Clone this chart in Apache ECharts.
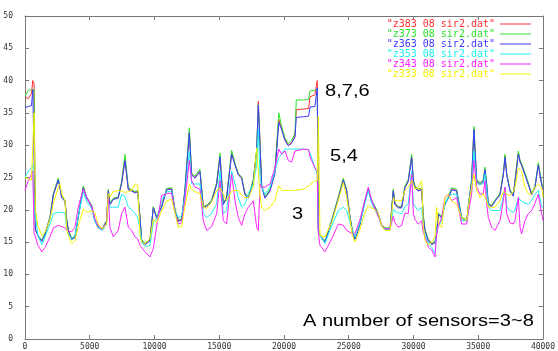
<!DOCTYPE html>
<html>
<head>
<meta charset="utf-8">
<script src="https://cdn.jsdelivr.net/npm/echarts@6/dist/echarts.min.js"></script>
<style>
  html, body { margin: 0; background: #fff; }
  #main { width: 558px; height: 351px; }
</style>
</head>
<body>
<div id="main"></div>
<script>
// sample positions (x) shared by every curve
const xs = [0,250,500,600,700,800,1000,1300,1550,1930,
  2190,2570,2700,2830,3090,3220,3350,3600,3860,4120,
  4500,4760,5150,5400,5660,5970,6300,6435,6560,6820,
  7200,7460,7720,7980,8240,8500,8700,8880,9010,9270,
  9650,9910,10170,10550,10940,11320,11580,11840,12100,12350,
  12690,12870,13130,13510,13770,14030,14410,14800,15060,15310,
  15570,15960,16220,16470,16730,16990,17250,17630,17890,18020,
  18150,18280,18530,18920,19300,19600,19820,20080,20340,20590,
  20850,20950,21500,21900,22010,22390,22570,22650,22780,23170,
  23680,24200,24580,24840,25100,25280,25480,25870,26250,26510,
  26770,27030,27280,27540,27800,28190,28440,28570,28830,29090,
  29340,29600,29860,29990,30120,30370,30630,30760,30890,31150,
  31400,31660,31790,31920,32180,32430,32690,32950,33330,33460,
  33720,34110,34230,34490,34670,34880,35140,35390,35520,35650,
  35780,36040,36290,36680,36940,37070,37200,37450,37710,37840,
  38100,38230,38350,38610,38870,39130,39380,39640,39900,40000];

const z383 = [37.5,37.2,38.0,40.0,39.5,17,16,15.2,16.3,18.8,
  22.4,24.7,23.5,22.0,21.4,18.5,16.8,15.5,15.8,19.0,
  23.5,21.9,20.6,18.3,17.3,17.0,18.3,23.0,20.9,21.7,
  21.9,24.2,27.8,23.2,23.0,22.7,22.9,18.8,15.3,14.7,
  15.3,20.4,18.8,20.5,23.2,23.3,20.0,18.3,18.5,23.0,
  32.0,25.5,25.0,26.0,20.4,20.6,21.4,24.0,28.3,20.9,
  21.9,28.8,27.0,25.5,25.0,22.4,21.9,24.5,29.1,36.8,
  30.0,23.7,21.9,23.0,25.8,34.0,32.5,30.8,30.0,30.4,
  31.4,35.5,35.6,35.7,37.5,37.8,40.0,17,16,15.1,
  18.3,21.9,24.7,23.0,18.8,16.8,15.5,17.8,21.4,23.2,
  21.4,20.4,19.4,17.6,17.1,17.1,23.0,20.9,20.4,20.4,
  23.5,24.5,28.3,24.5,23.5,23.0,23.2,19.0,16.8,15.3,
  14.7,15.0,16.3,19.4,18.8,20.9,21.9,23.2,23.0,22.7,
  18.8,18.3,20.4,24.5,32.5,24.5,24.0,24.5,26.3,24.0,
  20.9,20.6,21.4,22.4,25.5,28.3,25.5,23.0,22.2,22.2,
  28.8,27.5,27.0,25.5,24.0,22.4,23.5,27.0,24.0,23.2];

const z373 = [37.6,38.5,38.6,38.7,38.6,17,16,15.3,16.4,18.9,
  22.5,24.9,23.6,22.1,21.5,18.6,16.9,15.6,15.9,19.1,
  23.7,22.0,20.7,18.4,17.4,17.1,18.4,23.2,21.0,21.8,
  22.0,24.4,28.6,23.4,23.1,22.8,23.0,18.9,15.4,14.8,
  15.4,20.5,18.9,20.6,23.3,23.4,20.1,18.4,18.6,23.1,
  32.7,25.7,25.2,26.3,20.5,20.7,21.5,24.2,28.8,21.0,
  22.0,29.2,27.2,25.6,25.1,22.5,22.0,24.7,29.3,36.3,
  30.2,23.9,22.0,23.2,26.0,35.0,32.9,31.1,30.3,30.7,
  31.8,37.0,37.0,37.1,38.4,38.5,38.6,17,16,15.2,
  18.4,22.0,24.9,23.1,18.9,16.9,15.6,17.9,21.5,23.4,
  21.5,20.5,19.5,17.7,17.2,17.2,23.2,21.0,20.5,20.5,
  23.7,24.7,28.6,24.7,23.7,23.2,23.4,19.1,16.9,15.4,
  14.8,15.1,16.4,19.5,18.9,21.0,22.0,23.4,23.2,22.9,
  18.9,18.4,20.5,24.7,32.9,24.7,24.2,24.7,26.6,24.2,
  21.0,20.7,21.5,22.5,25.7,28.6,25.7,23.1,22.3,22.3,
  29.1,27.7,27.2,25.7,24.2,22.5,23.7,27.3,24.2,23.4];

const z363 = [35.8,36.0,36.1,38.6,38.8,17,16,15.1,16.2,18.7,
  22.3,24.6,23.4,21.9,21.3,18.4,16.7,15.4,15.7,18.9,
  23.4,21.8,20.5,18.2,17.2,16.9,18.2,22.9,20.8,21.6,
  21.8,24.1,27.6,23.1,22.9,22.6,22.8,18.7,15.2,14.6,
  15.2,20.3,18.7,20.4,23.1,23.2,19.9,18.2,18.4,22.9,
  31.9,25.4,24.9,25.9,20.3,20.5,21.3,23.9,28.2,20.8,
  21.8,28.6,26.9,25.4,24.9,22.3,21.8,24.4,29.0,36.2,
  29.9,23.6,21.8,22.9,25.6,33.5,32.4,30.7,29.9,30.3,
  31.3,34.3,34.4,34.5,35.9,36.0,38.9,17,16,15.0,
  18.2,21.8,24.6,22.9,18.7,16.7,15.4,17.7,21.3,23.1,
  21.3,20.3,19.3,17.5,17.0,17.0,22.9,20.8,20.3,20.3,
  23.4,24.4,28.1,24.4,23.4,22.9,23.1,18.9,16.7,15.2,
  14.6,14.9,16.2,19.3,18.7,20.8,21.8,23.1,22.9,22.6,
  18.7,18.2,20.3,24.4,32.4,24.4,23.9,24.4,26.2,23.9,
  20.8,20.5,21.3,22.3,25.4,28.1,25.4,22.9,22.1,22.1,
  28.6,27.4,26.9,25.4,23.9,22.3,23.4,26.9,23.9,23.1];

const z353 = [25,26,26.5,27,20,19,16,14.6,15.8,17.8,
  19.4,19.6,19.7,19.6,19.5,17,16.2,15.5,16,19,
  22.8,21.3,20.2,18.2,17.3,16.8,17.8,21,20.4,20.4,
  20.4,22.4,22,20.4,20,19.4,18.8,17,15,14.3,
  14.5,18,18.5,21.5,22.8,22.8,19.8,18.8,19,22,
  29.1,24,24,24,19.4,18.8,19.4,20.9,26,19.4,
  19.9,26,24,21.9,20.4,20.9,22.5,24,27,32.5,
  25,23.5,22.4,23.5,26,28.1,28.6,29.4,29.4,29.4,
  29.4,29.4,29.4,29.3,28.8,26.5,25.5,17,16,14.8,
  17.5,19.9,20.4,19.9,18,16.8,15.8,18,21,23,
  21,20,19,17.5,17,17,20,19.8,19.5,19.4,
  20.5,20.9,26,20.9,20.5,19.9,20.4,17,16.8,14.7,
  14.2,13.2,16.8,17.5,18.3,20.9,21.9,22.4,22.4,22.4,
  18.3,18.3,19.5,23.5,29.1,24,24,24,25.5,23,
  20.4,19.9,19.9,19.9,22,23.5,20.5,19.9,19.6,20,
  21.9,21.5,21.4,21,20.9,21.5,22.4,23,20.5,20.4];

const z343 = [23,24.5,25.5,26,16.5,16.5,14.5,13.5,14.2,15.8,
  17.2,17.6,17.5,17.4,17.2,16.8,16.6,16.6,17.3,20.5,
  23.2,22,20.5,18.6,17.5,17,18,22,17.3,15.8,
  16.8,19.4,20.4,17.3,16.8,15.8,15.5,14.5,14.2,13.5,
  12.7,14,17.5,22.2,22.5,22.6,19.5,17.8,18,21.5,
  27.6,24.5,23.5,23.2,18.3,16.8,17.4,19.4,24.5,18.3,
  17.8,25.5,21.4,18.8,17.6,19.4,20.4,21.4,17.3,16.8,
  24,23.5,23.5,24,26.5,29.4,28.6,29.1,27.6,27.4,
  29.1,29.3,29.4,29.3,28.2,26.5,26,16.5,14.5,13.5,
  15.5,17.8,17.6,16.8,16.5,16.3,16.3,18.5,21.5,23.5,
  21.5,20.2,19,17.6,17.1,17,19,18,17.3,17.6,
  19.5,19.4,25.5,19.4,18.5,17.8,18.3,16.5,15.8,14.2,
  13.8,12.7,16.3,17.5,18.8,21.9,22.4,21.4,21.9,22,
  17.8,17.8,19.5,22.4,27.6,23.5,22.4,22.5,24.5,21,
  18.8,17.3,16.8,18.3,21.4,23.5,19.4,18,17.8,18.3,
  21.9,17.3,16.3,18.3,19.4,19.9,21,22.4,19.4,18.3];

const z333 = [25,24.8,24.6,24.5,35,20,17.5,16,16.5,18.5,
  21,23.5,24,22.5,21.4,17,16,14.8,15.2,17.5,
  20.1,19.6,19.8,19.5,17.8,17,17.8,22.5,22,22.8,
  23,22.9,22.7,22.8,23,24,23.8,16,15,14.8,
  15.5,18.5,18,19.8,21.4,21.6,19.5,17.3,17.5,20.5,
  24,23.2,22.8,22.5,20.4,20.2,21.2,23,23.4,22.4,
  21.4,22.9,23,23,22.3,21.9,21.9,23.5,29.6,26,
  22,20.4,19.9,20.4,21.4,23.7,23,23,23,23,
  23,23.1,23.2,23.7,23.8,24.5,24.5,34.5,16,15.8,
  18,21.5,24.2,22,18.5,16,15,17,19.5,20.6,
  20.3,20,19.5,17.5,16.8,16.8,21.9,21.4,21.4,21.4,
  23,23.5,24.5,24,23.2,23.5,24.5,17.5,15.3,14.5,
  15,15.8,20.4,17.8,17.3,21.9,22.4,21.4,20.9,20.9,
  18.8,18.3,20.4,23.5,25.5,23,21.9,22.5,22.8,21.4,
  20.4,20.4,20.4,21.4,22.9,23,22.4,22.2,22.8,23.5,
  26.5,26.2,26,23.5,22.5,22.4,23.5,24,23.5,22];

const names = ['"z383 08 sir2.dat"', '"z373 08 sir2.dat"', '"z363 08 sir2.dat"',
  '"z353 08 sir2.dat"', '"z343 08 sir2.dat"', '"z333 08 sir2.dat"'];
const values = [z383, z373, z363, z353, z343, z333];
const colors = ['#ff3030', '#30e030', '#3a3aff', '#20f0f0', '#ff20ff', '#f4f400'];

const axisColor = '#777';
const tickFont = { fontFamily: 'DejaVu Sans Mono', fontSize: 8, color: '#333' };

function pts(arr) {
  return xs.map(function (x, i) { return [x, arr[i]]; });
}

const chart = echarts.init(document.getElementById('main'), null, { renderer: 'canvas' });

const series = names.map(function (n, i) {
  return {
    name: n,
    type: 'line',
    data: pts(values[i]),
    symbol: 'none',
    showSymbol: false,
    lineStyle: { color: colors[i], width: 1 },
    itemStyle: { color: colors[i] },
    xAxisIndex: 0,
    yAxisIndex: 0,
  };
});

function plain(v) { return String(v); }

function xAx(pos, showLabel) {
  return {
    type: 'value', position: pos, min: 0, max: 40000, interval: 5000,
    axisLine: { show: true, onZero: false, lineStyle: { color: axisColor } },
    axisTick: { show: true, inside: true, length: 4, lineStyle: { color: axisColor } },
    axisLabel: Object.assign({ show: showLabel, margin: 4, formatter: plain }, tickFont),
    splitLine: { show: false },
  };
}
function yAx(pos, showLabel) {
  return {
    type: 'value', position: pos, min: 0, max: 50, interval: 5,
    axisLine: { show: true, onZero: false, lineStyle: { color: axisColor } },
    axisTick: { show: true, inside: true, length: 4, lineStyle: { color: axisColor } },
    axisLabel: Object.assign({ show: showLabel, margin: 12, formatter: plain }, tickFont),
    splitLine: { show: false },
  };
}

function note(text, x, y) {
  return {
    type: 'text', x: x, y: y, scaleX: 1.18,
    style: {
      text: text, fill: '#000', fontSize: 17, fontFamily: 'Liberation Sans',
      textVerticalAlign: 'middle',
    },
  };
}

const option = {
  animation: false,
  backgroundColor: '#fff',
  grid: { left: 25, right: 15, top: 16, bottom: 10 },
  xAxis: [xAx('bottom', true), xAx('top', false)],
  yAxis: [yAx('left', true), yAx('right', false)],
  legend: {
    orient: 'vertical', right: 27, top: 19, align: 'right',
    icon: 'rect', itemWidth: 31, itemHeight: 1, itemGap: 0, padding: 0,
    textStyle: { fontFamily: 'DejaVu Sans Mono', fontSize: 10, lineHeight: 8 },
    data: names.map(function (n, i) {
      return { name: n, itemStyle: { color: colors[i] }, textStyle: { color: colors[i] } };
    }),
  },
  graphic: [
    note('8,7,6', 325, 91),
    note('5,4', 330, 156),
    note('3', 292, 214),
    note('A number of sensors=3~8', 303, 321),
  ],
  series: series,
};
chart.setOption(option);
</script>
</body>
</html>
